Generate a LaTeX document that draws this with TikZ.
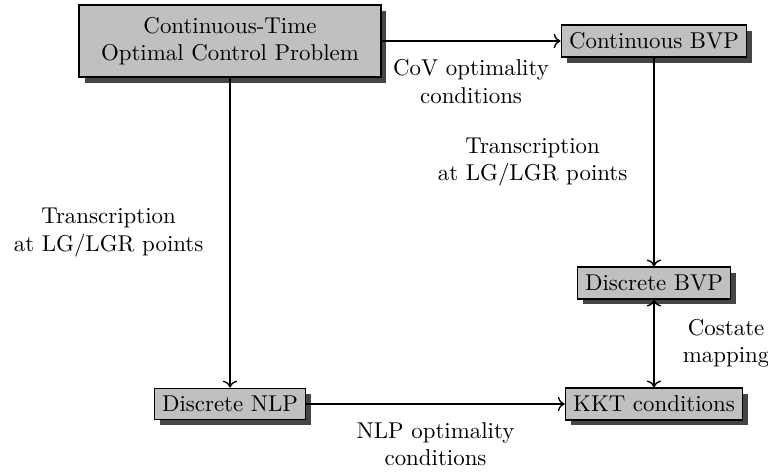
\documentclass[tikz,border=0pt]{standalone}
\usepackage{tikz}
\usetikzlibrary{shapes,arrows.meta,positioning,calc,shadows}
\usepackage{xcolor}
\definecolor{boxfill}{HTML}{C0C0C0}
\definecolor{shadowgray}{HTML}{454545}

\begin{document}
\begin{tikzpicture}[x=0.437pt, y=-0.437pt,
  stage/.style={draw=black, thick, fill=boxfill, inner sep=3.33pt,
    drop shadow={shadow xshift=2.5pt, shadow yshift=-2.5pt, fill=shadowgray, opacity=1}},
  flow/.style={semithick, -{To[length=3pt]}},
  tag/.style={align=center}]
  \useasboundingbox (0,0) rectangle (768,473);

  % Problem formulations
  \node[stage, align=center, inner xsep=9.5pt, inner ysep=5.3pt] (ocp) at (230,41)
    {Continuous-Time\\Optimal Control Problem};
  \node[stage] (cbvp) at (654,41) {Continuous BVP};
  \node[stage] (dbvp) at (654,283) {Discrete BVP};
  \node[stage] (nlp) at (230,404) {Discrete NLP};
  \node[stage] (kkt) at (654,404) {KKT conditions};

  % Optimality conditions
  \draw[flow] (ocp) -- node[tag, below=4.5pt] (covlbl) {CoV optimality\\conditions} (cbvp);
  \draw[flow] (nlp) -- node[tag, below=4.5pt] (nlplbl) {NLP optimality\\conditions} (kkt);

  % Transcriptions
  \draw[flow] (ocp) -- node[tag, left=8pt] (trleft) {Transcription\\at LG/LGR points} (nlp);
  \draw[flow] (cbvp) -- node[tag, left=8pt] (trright) {Transcription\\at LG/LGR points} (dbvp);

  % Costate mapping
  \draw[semithick, {To[length=3pt]}-{To[length=3pt]}] (dbvp) -- node[tag, right=9pt] (costlbl) {Costate\\mapping} (kkt);
\end{tikzpicture}
\end{document}
